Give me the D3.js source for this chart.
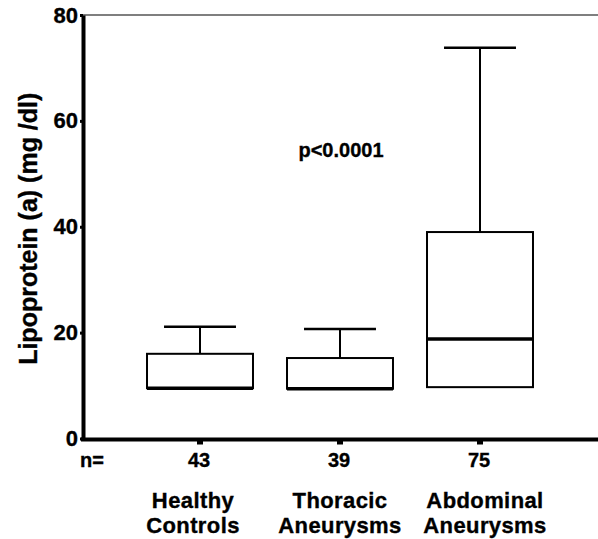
<!DOCTYPE html>
<html>
<head>
<meta charset="utf-8">
<script src="https://cdn.jsdelivr.net/npm/d3@7"></script>
<style>
  body { margin: 0; background: #fff; }
  text { font-family: "Liberation Sans", Arial, sans-serif; font-weight: bold; fill: #000; stroke: #000; stroke-width: 0.35px; }
</style>
</head>
<body>
<svg id="chart" width="598" height="539"></svg>
<script>
// data
const groups = ["Healthy Controls", "Thoracic Aneurysms", "Abdominal Aneurysms"];
const label_lines = [["Healthy", "Controls"], ["Thoracic", "Aneurysms"], ["Abdominal", "Aneurysms"]];
const n_values = [43, 39, 75];
const whisker_low = [9.5, 9.4, 9.7];
const q1 = [9.5, 9.4, 9.7];
const medians = [9.5, 9.4, 18.8];
const q3 = [16.0, 15.2, 39.0];
const whisker_high = [21.1, 20.7, 73.8];
const y_ticks = [0, 20, 40, 60, 80];
const p_label = "p<0.0001";
const y_title = "Lipoprotein (a) (mg /dl)";

const svg = d3.select("svg#chart");
const plot_left = 83, plot_right = 598, plot_top = 15, plot_bottom = 438.5;
// category labels sit a bit off the tick in the original
const label_dx = [-7, 0, 5];

const x = d3.scaleBand().domain(groups).range([130, 550]).padding(0);
const y = d3.scaleLinear().domain([0, 80]).range([plot_bottom, plot_top]);

const box_w = x.bandwidth() * 0.757;
const cap_w = x.bandwidth() * 0.514;

var boxes = groups.map((g, i) => ({
  name: g,
  cx: x(g) + x.bandwidth() / 2,
  lo: whisker_low[i], q1: q1[i], med: medians[i], q3: q3[i], hi: whisker_high[i],
}));

// top frame line
svg.append("line")
  .attr("x1", plot_left).attr("x2", plot_right)
  .attr("y1", plot_top).attr("y2", plot_top)
  .attr("stroke", "#000").attr("stroke-width", 1.2);

// y axis
const y_axis = svg.append("g")
  .attr("transform", `translate(${plot_left}, 0)`)
  .call(d3.axisLeft(y).tickValues(y_ticks).tickSize(3).tickSizeOuter(0).tickPadding(2));
y_axis.select(".domain").attr("stroke-width", 4);
y_axis.selectAll(".tick line").attr("stroke-width", 3);
y_axis.selectAll(".tick text")
  .style("font-size", "22px").style("font-family", "Liberation Sans, Arial, sans-serif")
  .style("font-weight", "bold").attr("fill", "#000");

// x axis line and ticks
svg.append("line")
  .attr("x1", plot_left - 2).attr("x2", plot_right)
  .attr("y1", plot_bottom + 1).attr("y2", plot_bottom + 1)
  .attr("stroke", "#000").attr("stroke-width", 4);
svg.selectAll("rect.xtick")
  .data(boxes)
  .join("rect")
  .attr("class", "xtick")
  .attr("x", (d) => d.cx - 3)
  .attr("y", plot_bottom + 2)
  .attr("width", 6)
  .attr("height", 4)
  .attr("fill", "#000");

// whiskers
const box_group = svg.append("g").attr("id", "boxes");
box_group.selectAll("line.stem")
  .data(boxes)
  .join("line")
  .attr("class", "stem")
  .attr("x1", (d) => d.cx).attr("x2", (d) => d.cx)
  .attr("y1", (d) => y(d.hi)).attr("y2", (d) => y(d.q3))
  .attr("stroke", "#000").attr("stroke-width", 2);
box_group.selectAll("line.cap")
  .data(boxes)
  .join("line")
  .attr("class", "cap")
  .attr("x1", (d) => d.cx - cap_w / 2).attr("x2", (d) => d.cx + cap_w / 2)
  .attr("y1", (d) => y(d.hi)).attr("y2", (d) => y(d.hi))
  .attr("stroke", "#000").attr("stroke-width", 2.5);

// boxes
box_group.selectAll("rect.box")
  .data(boxes)
  .join("rect")
  .attr("class", "box")
  .attr("x", (d) => d.cx - box_w / 2)
  .attr("y", (d) => y(d.q3))
  .attr("width", box_w)
  .attr("height", (d) => y(d.q1) - y(d.q3))
  .attr("fill", "none")
  .attr("stroke", "#000")
  .attr("stroke-width", 2);

// medians
box_group.selectAll("line.median")
  .data(boxes)
  .join("line")
  .attr("class", "median")
  .attr("x1", (d) => d.cx - box_w / 2).attr("x2", (d) => d.cx + box_w / 2)
  .attr("y1", (d) => y(d.med)).attr("y2", (d) => y(d.med))
  .attr("stroke", "#000").attr("stroke-width", 3.5);

// p value
svg.append("text")
  .attr("x", boxes[1].cx + 1)
  .attr("y", 157)
  .attr("text-anchor", "middle")
  .style("font-size", "20px")
  .text(p_label);

// y title
svg.append("text")
  .attr("transform", `translate(37, ${(plot_top + plot_bottom) / 2 + 2}) rotate(-90)`)
  .attr("text-anchor", "middle")
  .style("font-size", "25px")
  .text(y_title);

// n row
svg.append("text")
  .attr("x", 80).attr("y", 467)
  .style("font-size", "20px")
  .text("n=");
svg.selectAll("text.n")
  .data(boxes)
  .join("text")
  .attr("class", "n")
  .attr("x", (d) => d.cx - 1)
  .attr("y", 467)
  .attr("text-anchor", "middle")
  .style("font-size", "20px")
  .text((d, i) => n_values[i]);

// category labels
[0, 1].forEach((line) => {
  svg.selectAll("text.cat" + line)
    .data(boxes)
    .join("text")
    .attr("class", "cat" + line)
    .attr("x", (d, i) => d.cx + label_dx[i])
    .attr("y", 508 + line * 25)
    .attr("text-anchor", "middle")
    .style("font-size", "22px")
    .style("letter-spacing", "0.4px")
    .text((d, i) => label_lines[i][line]);
});
</script>
</body>
</html>
